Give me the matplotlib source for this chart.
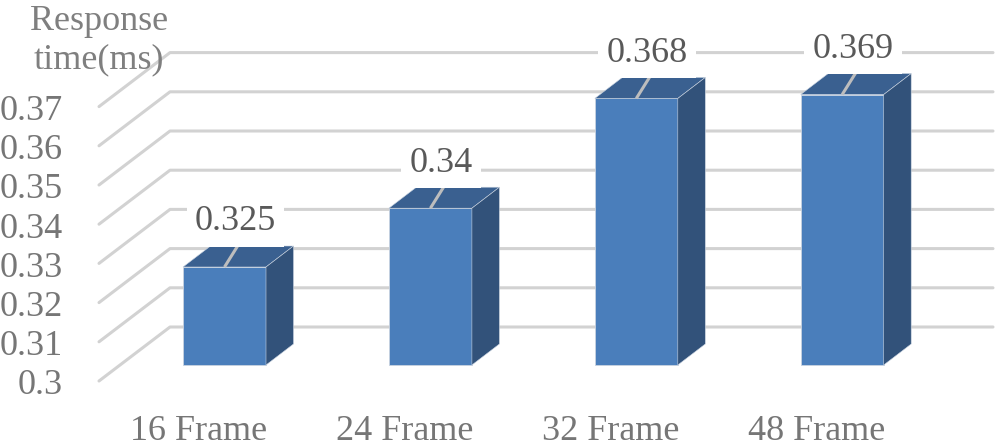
import numpy as np
import matplotlib
matplotlib.use('Agg')
import matplotlib.pyplot as plt
from matplotlib.patches import Polygon

categories = ['16 Frame', '24 Frame', '32 Frame', '48 Frame']
values = [0.325, 0.34, 0.368, 0.369]
value_labels = ['0.325', '0.34', '0.368', '0.369']
ticks = [0.3, 0.31, 0.32, 0.33, 0.34, 0.35, 0.36, 0.37]
tick_labels = ['0.3', '0.31', '0.32', '0.33', '0.34', '0.35', '0.36', '0.37']

plt.rcParams['font.family'] = ['Liberation Serif', 'DejaVu Serif']

W, H = 1000, 446
fig = plt.figure(figsize=(W / 100, H / 100), dpi=100)
ax = fig.add_axes([0, 0, 1, 1])

# scale: one category = 205.9 px, 0.01 = 39.2 px, zero line at y px 365
xs = 205.9
ys = 3920.0
ax.set_xlim(-224.5 / xs, (W - 224.5) / xs)
ax.set_ylim(0.3 - (H - 365) / ys, 0.3 + 365 / ys)
ax.axis('off')


def dx(p):
    return p / xs


def dy(p):
    return p / ys


# grid: front end -> back wall -> right edge
for t, lab in zip(ticks, tick_labels):
    x0, x1, x2 = -125.5, -54.5, 768.5
    ax.plot([dx(x0), dx(x1), dx(x2)], [t - dy(16), t + dy(38), t + dy(38)],
            color='#d2d2d2', lw=2.2, solid_capstyle='round', zorder=1)
    ax.text(dx(-162), t - dy(21), lab, ha='right', va='center',
            fontsize=26, color='#767676', zorder=5)

bw = 83 / xs
ox, oy = dx(27.5), dy(21)
for i, v in enumerate(values):
    l, r = i - bw / 2, i + bw / 2
    ax.bar(i, v - 0.3, bw, bottom=0.3, color='#4a7ebb', edgecolor='#c9d3e0', lw=0.6, zorder=3)
    ax.add_patch(Polygon([(l, v), (r, v), (r + ox, v + oy), (l + ox, v + oy)],
                         fc='#3a6090', ec='#c9d3e0', lw=0.4, zorder=3))
    ax.add_patch(Polygon([(r, 0.3), (r + ox, 0.3 + oy), (r + ox, v + oy), (r, v)],
                         fc='#32527a', ec='#c9d3e0', lw=0.4, zorder=3))
    # leader line and value label
    ax.plot([i, i + dx(15)], [v, v + dy(24)], color='#bdbdbd', lw=2.2,
            solid_capstyle='butt', zorder=4)
    ax.text(i + dx(11), v + dy(45), value_labels[i], ha='center', va='center',
            fontsize=26, color='#595959', zorder=5,
            bbox=dict(fc='white', ec='none', pad=6))
    ax.text(i - dx(26), 0.3 - dy(66), categories[i], ha='center', va='center',
            fontsize=26, color='#767676', zorder=5)

ax.text(dx(-125.5), 0.3 + dy(324), 'Response\ntime(ms)', ha='center', va='center',
        fontsize=26, color='#7f7f7f', linespacing=1.2, zorder=6)

fig.savefig('out.png', dpi=100)
